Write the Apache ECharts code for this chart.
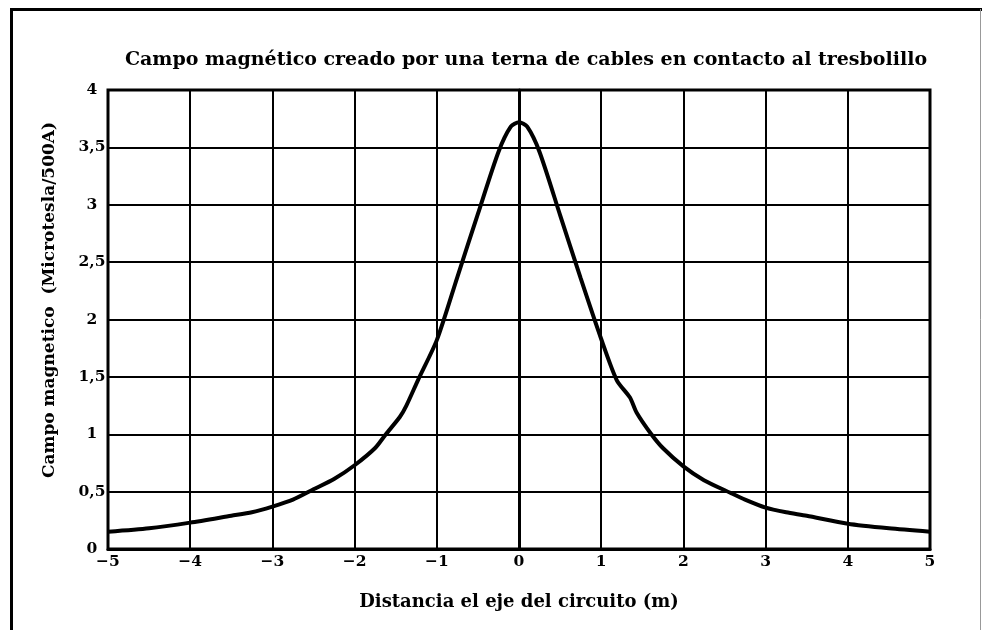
<!DOCTYPE html>
<html>
<head>
<meta charset="utf-8">
<script src="https://cdn.jsdelivr.net/npm/echarts@6/dist/echarts.min.js"></script>
<style>
html,body{margin:0;padding:0;background:#fff;}
#c{width:982px;height:630px;}
</style>
</head>
<body>
<div id="c"></div>
<script>
var titleText = 'Campo magnético creado por una terna de cables en contacto al tresbolillo';
var xName = 'Distancia el eje del circuito (m)';
var yName = 'Campo magnetico  (Microtesla/500A)';

var distX = [-5, -4.5, -4, -3.5, -3.25, -3, -2.75, -2.5, -2.25, -2, -1.75, -1.62, -1.45, -1.37, -1.23, -1, -0.75, -0.5, -0.25, -0.1, 0,
             0.1, 0.25, 0.5, 0.75, 1, 1.19, 1.35, 1.43, 1.61, 1.75, 2, 2.25, 2.57, 2.75, 3, 3.25, 3.5, 4, 4.5, 5];
var field = [0.15, 0.18, 0.23, 0.29, 0.32, 0.37, 0.43, 0.52, 0.61, 0.73, 0.88, 1.0, 1.15, 1.25, 1.47, 1.82, 2.37, 2.92, 3.46, 3.68, 3.72,
             3.68, 3.46, 2.91, 2.36, 1.83, 1.47, 1.32, 1.19, 1.0, 0.88, 0.72, 0.6, 0.49, 0.43, 0.36, 0.32, 0.29, 0.22, 0.18, 0.15];
var xTicks = [-5, -4, -3, -2, -1, 0, 1, 2, 3, 4, 5];
var yTicks = [0, 0.5, 1, 1.5, 2, 2.5, 3, 3.5, 4];

var pts = distX.map(function (x, i) { return [x, field[i]]; });
var FONT = 'DejaVu Serif';

var chart = echarts.init(document.getElementById('c'), null, {renderer: 'canvas'});
chart.setOption({
  backgroundColor: '#fff',
  animation: false,
  title: {
    text: titleText,
    left: 521, top: 46, textAlign: 'center',
    textStyle: {fontFamily: FONT, fontWeight: 'bold', fontSize: 19, color: '#000'}
  },
  grid: {left: 108, right: 52, top: 90, bottom: 81, show: true, borderColor: '#000', borderWidth: 3, backgroundColor: 'transparent'},
  xAxis: {
    type: 'value', min: -5, max: 5, interval: 1,
    name: xName, nameLocation: 'middle', nameGap: 44,
    nameTextStyle: {fontFamily: FONT, fontWeight: 'bold', fontSize: 18, color: '#000'},
    axisLine: {show: true, lineStyle: {color: '#000', width: 3}},
    axisTick: {show: false},
    axisLabel: {
      margin: 5, color: '#000', fontFamily: FONT, fontWeight: 'bold', fontSize: 15.5,
      formatter: function (v) { return xTicks.indexOf(v) < 0 ? '' : (v < 0 ? '\u2212' + (-v) : String(v)); }
    },
    splitLine: {show: true, lineStyle: {color: '#000', width: 2}}
  },
  yAxis: {
    type: 'value', min: 0, max: 4, interval: 0.5,
    axisLine: {show: true, lineStyle: {color: '#000', width: 3}},
    axisTick: {show: false},
    axisLabel: {
      margin: 16, align: 'center', color: '#000', fontFamily: FONT, fontWeight: 'bold', fontSize: 15.5,
      formatter: function (v) { return yTicks.indexOf(v) < 0 ? '' : String(v).replace('.', ','); }
    },
    splitLine: {show: true, lineStyle: {color: '#000', width: 2}}
  },
  series: [{
    type: 'line', data: pts, smooth: 0.25, showSymbol: false,
    lineStyle: {color: '#000', width: 4}
  }],
  graphic: [
    {type: 'polyline', shape: {points: [[11.5, 630], [11.5, 9.5], [982, 9.5]]}, style: {stroke: '#000', lineWidth: 3, fill: null}},
    {type: 'line', shape: {x1: 980.5, y1: 9, x2: 980.5, y2: 630}, style: {stroke: '#999', lineWidth: 1}},
    {type: 'text', x: 50, y: 300, rotation: Math.PI / 2,
     style: {text: yName, fill: '#000', font: 'bold 17px "DejaVu Serif"', align: 'center', verticalAlign: 'middle'}}
  ]
});
</script>
</body>
</html>
